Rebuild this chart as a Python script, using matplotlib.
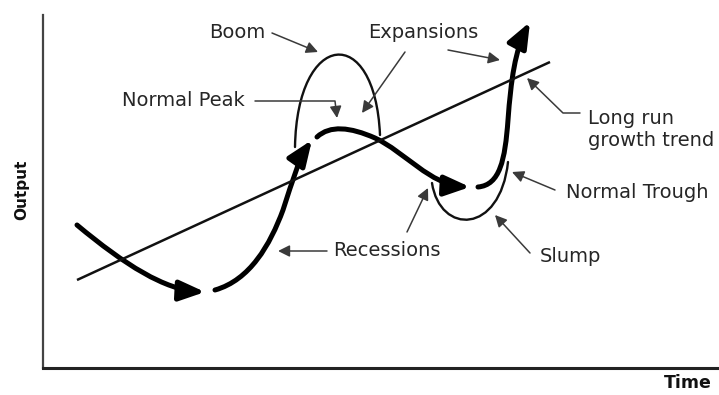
import matplotlib
matplotlib.use("Agg")
import matplotlib.pyplot as plt
from matplotlib.path import Path
from matplotlib.patches import FancyArrowPatch, ArrowStyle

# schematic business cycle: (time, output) points, cubic bezier control points
trend = [(34, 88), (507, 306)]
fall_1 = [(34, 143), (82, 103), (122, 78), (162, 76)]
rise_1 = [(172, 78), (207, 88), (227, 123), (240, 158), (250, 188), (255, 208), (269, 228)]
fall_2 = [(274, 231), (287, 243), (307, 241), (332, 230), (362, 216), (387, 183), (427, 181)]
rise_2 = [(435, 181), (457, 183), (462, 208), (465, 248), (468, 288), (472, 318), (487, 346)]
boom = [(252, 221), (254, 338), (332, 346), (337, 233)]
slump = [(389, 185), (397, 133), (457, 133), (465, 206)]

# label text, anchor point, leader line points
labels = ["Boom", "Expansions", "Normal Peak", "Long run\ngrowth trend",
          "Normal Trough", "Recessions", "Slump"]
label_pos = [(194, 336), (380, 336), (140, 267), (545, 239), (523, 176), (290, 118), (497, 111)]
label_ha = ["center", "center", "center", "left", "left", "left", "left"]
leaders = [
    [(229, 335), (275, 316)],
    [(362, 316), (319, 255)],
    [(405, 318), (457, 308)],
    [(212, 267), (292, 267), (294, 250)],
    [(537, 255), (520, 255), (484, 290)],
    [(512, 178), (469, 196)],
    [(284, 117), (235, 117)],
    [(364, 136), (385, 180)],
    [(487, 115), (452, 153)],
]

fig = plt.figure(figsize=(7.19, 3.95), dpi=100)
ax = fig.add_axes([43 / 719, 27 / 395, 676 / 719, 353 / 395])
ax.set_xlim(0, 676)
ax.set_ylim(0, 353)
ax.set_xticks([])
ax.set_yticks([])
for s in ["top", "right"]:
    ax.spines[s].set_visible(False)
ax.spines["left"].set_linewidth(1.6)
ax.spines["left"].set_color("#444444")
ax.spines["bottom"].set_linewidth(2.2)
ax.spines["bottom"].set_color("#222222")


def bezier(pts):
    codes = [Path.MOVETO] + [Path.CURVE4] * (len(pts) - 1)
    return Path(pts, codes)


def polyline(pts):
    codes = [Path.MOVETO] + [Path.LINETO] * (len(pts) - 1)
    return Path(pts, codes)


ax.plot([p[0] for p in trend], [p[1] for p in trend], color="#111111", lw=1.8,
        solid_capstyle="butt")

# thin boom / slump curves
for pts in [boom, slump]:
    ax.add_patch(FancyArrowPatch(path=bezier(pts), arrowstyle="-", lw=1.7,
                                 color="#111111", shrinkA=0, shrinkB=0))

# thick cycle
big_head = ArrowStyle("-|>", head_length=0.55, head_width=0.22)
for pts in [fall_1, rise_1, fall_2, rise_2]:
    ax.add_patch(FancyArrowPatch(path=bezier(pts), arrowstyle=big_head,
                                 mutation_scale=28, lw=3.6, color="#000000",
                                 shrinkA=0, shrinkB=0, capstyle="round",
                                 joinstyle="round"))

small_head = ArrowStyle("-|>", head_length=0.5, head_width=0.25)
for pts in leaders:
    ax.add_patch(FancyArrowPatch(path=polyline(pts), arrowstyle=small_head,
                                 mutation_scale=14, lw=1.1, color="#3a3a3a",
                                 shrinkA=0, shrinkB=0))

for txt, (x, y), ha in zip(labels, label_pos, label_ha):
    ax.text(x, y, txt, ha=ha, va="center", fontsize=14, color="#262626",
            family="DejaVu Sans", linespacing=1.2)

ax.text(-21, 178, "Output", rotation=90, ha="center", va="center",
        fontsize=11, fontweight="bold", color="#111111")
ax.text(645, -15, "Time", ha="center", va="center", fontsize=12.5,
        fontweight="bold", color="#111111")

fig.savefig("out.png", dpi=100)
